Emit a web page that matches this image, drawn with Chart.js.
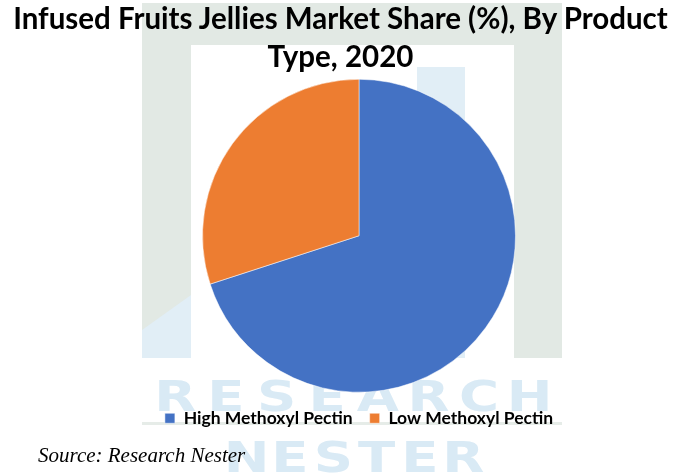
<!DOCTYPE html>
<html>
<head>
<meta charset="utf-8">
<script src="https://cdn.jsdelivr.net/npm/chart.js@4"></script>
<style>
  html, body { margin: 0; padding: 0; background: #ffffff; }
  #wrap { position: relative; width: 681px; height: 476px; }
  #title {
    position: absolute; left: 0; top: -1px; width: 681px; text-align: center;
    font-family: Lato, sans-serif; font-weight: bold; font-size: 29.5px;
    line-height: 38px; color: #000;
  }
  #source {
    position: absolute; left: 38px; top: 445px;
    font-family: "Liberation Serif", "DejaVu Serif", serif;
    font-style: italic; font-size: 21px; line-height: 21px; color: #000;
  }
</style>
</head>
<body>
<div id="wrap">
  <canvas id="pieChart" width="681" height="476"></canvas>
  <div id="title">Infused Fruits Jellies Market Share (%), By Product<br>Type, 2020</div>
  <div id="source">Source: Research Nester</div>
</div>
<script>
// chart data
const productTypes = ['High Methoxyl Pectin', 'Low Methoxyl Pectin'];
const shareValues = [70, 30];
const sliceColors = ['#4472C4', '#ED7D31'];

// faint logo watermark behind the chart
const watermark = {
    id: 'watermark',
    beforeDraw(chart) {
        const ctx = chart.ctx;
        ctx.save();
        ctx.fillStyle = '#e2e9e4';
        ctx.fillRect(142, 3, 420, 355);
        ctx.fillStyle = '#ffffff';
        ctx.fillRect(191, 45, 323, 313);
        ctx.fillStyle = '#e1eef6';
        ctx.fillRect(417, 67, 48, 291);
        ctx.beginPath();
        ctx.moveTo(142, 330);
        ctx.lineTo(191, 295);
        ctx.lineTo(191, 358);
        ctx.lineTo(142, 358);
        ctx.closePath();
        ctx.fill();
        ctx.fillStyle = '#e6ece8';
        ctx.fillRect(142, 422, 420, 3);

        // wide letters, spread evenly
        ctx.fillStyle = '#d9eaf5';
        ctx.font = 'bold 42px "DejaVu Sans"';
        ctx.textAlign = 'left';
        ctx.textBaseline = 'alphabetic';
        const spread = (word, x0, x1, y) => {
            const step = (x1 - x0) / word.length;
            for (let i = 0; i < word.length; i++) {
                const w = ctx.measureText(word[i]).width * 1.3;
                ctx.save();
                ctx.translate(x0 + step * i + (step - w) / 2, y);
                ctx.scale(1.3, 1);
                ctx.fillText(word[i], 0, 0);
                ctx.restore();
            }
        };
        spread('RESEARCH', 150, 555, 411);
        spread('NESTER', 225, 485, 472);
        ctx.restore();
    }
};

const ctxPie = document.getElementById('pieChart').getContext('2d');
new Chart(ctxPie, {
    type: 'pie',
    data: {
        labels: productTypes,
        datasets: [{
            data: shareValues,
            backgroundColor: sliceColors,
            borderColor: '#ffffff',
            borderWidth: 0.5
        }]
    },
    options: {
        responsive: false,
        animation: false,
        layout: { padding: { top: 79, left: 37, right: 0, bottom: 39 } },
        plugins: {
            legend: {
                position: 'bottom',
                labels: {
                    color: '#000000',
                    boxWidth: 10,
                    boxHeight: 10,
                    padding: 17,
                    font: { family: 'Lato', size: 17.5, weight: 'bold' }
                }
            },
            tooltip: { enabled: false }
        }
    },
    plugins: [watermark]
});
</script>
</body>
</html>
